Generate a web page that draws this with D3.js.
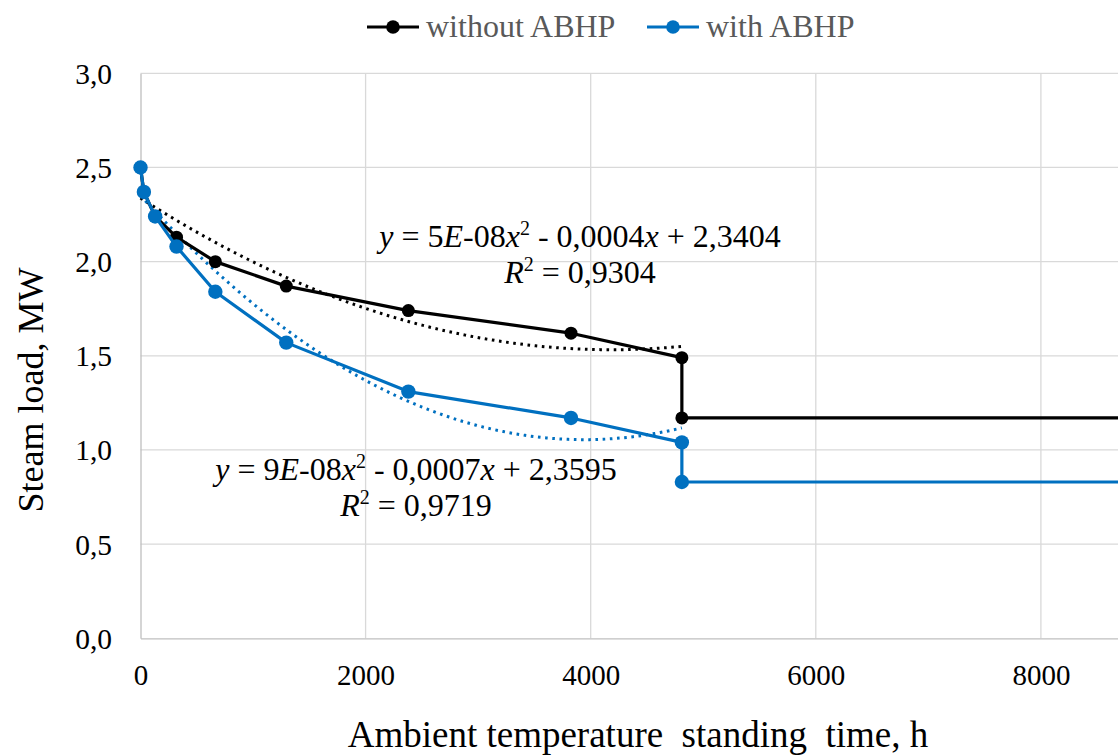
<!DOCTYPE html>
<html>
<head>
<meta charset="utf-8">
<script src="https://cdn.jsdelivr.net/npm/d3@7"></script>
<style>
  html, body { margin: 0; padding: 0; background: #fff; }
  svg { display: block; }
  text { font-family: "Liberation Serif", "Times New Roman", serif; }
</style>
</head>
<body>
<div id="chart"></div>
<script>
// ---- data ----
const timeH        = [0, 30, 130, 320, 665, 1295, 2380, 3825, 4810, 4810, 8760];
const loadWithout  = [2.50, 2.37, 2.24, 2.13, 2.00, 1.87, 1.74, 1.62, 1.49, 1.17, 1.17];
const loadWith     = [2.50, 2.37, 2.24, 2.08, 1.84, 1.57, 1.31, 1.17, 1.04, 0.83, 0.83];
const markerCount  = 10;   // the last point is only the horizontal continuation
const fitCount     = 9;    // trendline fitted to the points up to the drop
const seriesNames  = ["without ABHP", "with ABHP"];
const seriesColors = ["#000000", "#0070C0"];
const xTicks       = [0, 2000, 4000, 6000, 8000];
const yTicks       = [0, 0.5, 1.0, 1.5, 2.0, 2.5, 3.0];
const xLabel       = "Ambient temperature  standing  time, h";
const yLabel       = "Steam load, MW";
const eqWithout    = {coef: ["5", "-08", "0,0004", "2,3404"], r2: "0,9304"};
const eqWith       = {coef: ["9", "-08", "0,0007", "2,3595"], r2: "0,9719"};

// ---- layout ----
const W = 1118, H = 756;
const pLeft = 140.5, pTop = 73.3, pBottom = 638.3;
const pxPer2000 = 225.1;

const svg = d3.select("#chart").append("svg").attr("width", W).attr("height", H);

const x = d3.scaleLinear().domain([0, 10000]).range([pLeft, pLeft + pxPer2000 * 5]);
const y = d3.scaleLinear().domain([0, 3]).range([pBottom, pTop]);

const fmtY = v => d3.format(".1f")(v).replace(".", ",");

// gridlines
const g = svg.append("g");
g.selectAll(".hg").data(yTicks.filter(v => v > 0)).enter().append("line")
  .attr("x1", pLeft).attr("x2", W + 10)
  .attr("y1", d => y(d)).attr("y2", d => y(d))
  .attr("stroke", "#d9d9d9").attr("stroke-width", 1.3);
g.selectAll(".vg").data(xTicks.filter(v => v > 0)).enter().append("line")
  .attr("x1", d => x(d)).attr("x2", d => x(d))
  .attr("y1", pTop).attr("y2", pBottom)
  .attr("stroke", "#d9d9d9").attr("stroke-width", 1.3);

// axes (D3 axes, styled like Excel)
const yAxis = d3.axisLeft(y).tickValues(yTicks).tickFormat(fmtY).tickSize(0).tickPadding(28.5);
const yg = svg.append("g").attr("transform", `translate(${pLeft},0)`).call(yAxis);
yg.attr("font-family", null);
yg.select(".domain").attr("stroke", "#bfbfbf").attr("stroke-width", 1.3);
yg.selectAll("text").attr("font-size", 29.5).attr("fill", "#000").attr("dy", "0.34em");

const xAxis = d3.axisBottom(x).tickValues(xTicks).tickFormat(d3.format("d")).tickSize(0).tickPadding(26);
const xg = svg.append("g").attr("transform", `translate(0,${pBottom})`).call(xAxis);
xg.attr("font-family", null);
xg.select(".domain").attr("stroke", "#bfbfbf").attr("stroke-width", 1.3);
xg.selectAll("text").attr("font-size", 29).attr("fill", "#000");

// axis titles
svg.append("text").attr("x", 638).attr("y", 747).attr("text-anchor", "middle")
  .attr("font-size", 37).attr("fill", "#000").style("white-space", "pre")
  .text(xLabel);
svg.append("text").attr("transform", `translate(43,390) rotate(-90)`)
  .attr("text-anchor", "middle").attr("font-size", 36).attr("fill", "#000").text(yLabel);

// quadratic least-squares fit (as Excel's polynomial trendline)
function quadFit(xs, ys) {
  const n = xs.length;
  let S = [0, 0, 0, 0, 0], T = [0, 0, 0];
  for (let i = 0; i < n; i++) {
    const xi = xs[i], yi = ys[i];
    for (let k = 0; k <= 4; k++) S[k] += Math.pow(xi, k);
    for (let k = 0; k <= 2; k++) T[k] += yi * Math.pow(xi, k);
  }
  const M = [[S[0], S[1], S[2], T[0]], [S[1], S[2], S[3], T[1]], [S[2], S[3], S[4], T[2]]];
  for (let c = 0; c < 3; c++) {
    let p = c;
    for (let r = c + 1; r < 3; r++) if (Math.abs(M[r][c]) > Math.abs(M[p][c])) p = r;
    [M[c], M[p]] = [M[p], M[c]];
    for (let r = 0; r < 3; r++) if (r !== c) {
      const f = M[r][c] / M[c][c];
      for (let k = c; k < 4; k++) M[r][k] -= f * M[c][k];
    }
  }
  return [M[0][3] / M[0][0], M[1][3] / M[1][1], M[2][3] / M[2][2]];
}

const series = [loadWithout, loadWith];
const line = d3.line().x(d => x(d[0])).y(d => y(d[1]));

// trendlines (dotted)
series.forEach((vals, si) => {
  const xs = timeH.slice(0, fitCount), ys = vals.slice(0, fitCount);
  const c = quadFit(xs, ys);
  const xmax = d3.max(xs);
  const pts = d3.range(0, 101).map(i => {
    const xv = xmax * i / 100;
    return [xv, c[0] + c[1] * xv + c[2] * xv * xv];
  });
  svg.append("path").datum(pts).attr("d", line).attr("fill", "none")
    .attr("stroke", seriesColors[si]).attr("stroke-width", 3)
    .attr("stroke-dasharray", "2.6,4.6");
});

// series lines + markers (blue drawn last, on top)
series.forEach((vals, si) => {
  const pts = timeH.map((t, i) => [t, vals[i]]);
  svg.append("path").datum(pts).attr("d", line).attr("fill", "none")
    .attr("stroke", seriesColors[si]).attr("stroke-width", 3.2).attr("stroke-linejoin", "round");
  svg.selectAll(null).data(pts.slice(0, markerCount)).enter().append("circle")
    .attr("cx", d => x(d[0])).attr("cy", d => y(d[1]))
    .attr("r", si === 0 ? 6.5 : 7.2).attr("fill", seriesColors[si]);
});

// equations
function equation(cx, by, eq) {
  const fs = 32;
  const t = svg.append("text").attr("x", cx).attr("y", by).attr("text-anchor", "middle")
    .attr("font-size", fs).attr("fill", "#000");
  t.append("tspan").attr("font-style", "italic").text("y");
  t.append("tspan").text(" = " + eq.coef[0]);
  t.append("tspan").attr("font-style", "italic").text("E");
  t.append("tspan").text(eq.coef[1]);
  t.append("tspan").attr("font-style", "italic").text("x");
  t.append("tspan").attr("font-size", 20).attr("dy", -12).text("2");
  t.append("tspan").attr("dy", 12).text(" - " + eq.coef[2]);
  t.append("tspan").attr("font-style", "italic").text("x");
  t.append("tspan").text(" + " + eq.coef[3]);
  const r = svg.append("text").attr("x", cx).attr("y", by + 35.5).attr("text-anchor", "middle")
    .attr("font-size", fs).attr("fill", "#000");
  r.append("tspan").attr("font-style", "italic").text("R");
  r.append("tspan").attr("font-size", 20).attr("dy", -12).text("2");
  r.append("tspan").attr("dy", 12).text(" = " + eq.r2);
}
equation(580, 247, eqWithout);
equation(416, 480, eqWith);

// legend
const legendX = [367, 647];
seriesNames.forEach((name, i) => {
  const lg = svg.append("g").attr("transform", `translate(${legendX[i]},27)`);
  lg.append("line").attr("x1", 0).attr("x2", 52).attr("stroke", seriesColors[i]).attr("stroke-width", 3.2);
  lg.append("circle").attr("cx", 26).attr("r", 6.8).attr("fill", seriesColors[i]);
  lg.append("text").attr("x", 59).attr("y", 10).attr("font-size", 32).attr("fill", "#595959").text(name);
});
</script>
</body>
</html>
